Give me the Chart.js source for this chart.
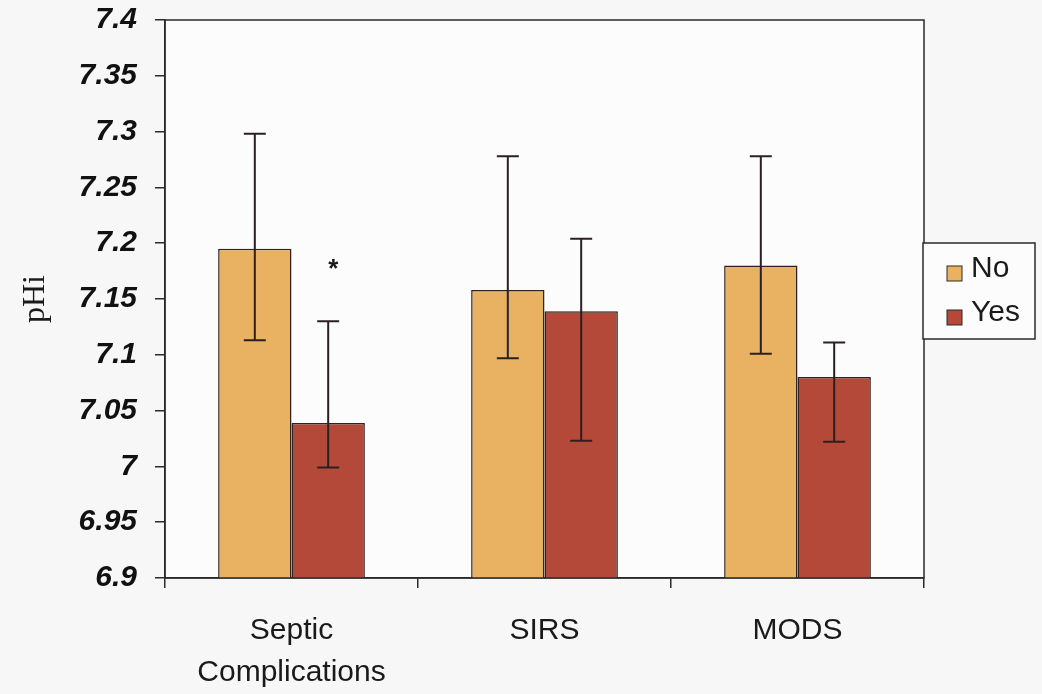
<!DOCTYPE html>
<html>

<head>
    <meta charset='utf-8'>
    <title>pHi by complication</title>
    <script src="https://cdn.jsdelivr.net/npm/chart.js@4.4.1/dist/chart.umd.min.js"></script>
    <style>
        body { margin: 0; background: #f7f7f7; }
    </style>
</head>

<body>
    <canvas id="myChart" width="1042" height="694"></canvas>
    <script>
        // values
        const categories = [['Septic', 'Complications'], 'SIRS', 'MODS'];
        const seriesNames = ['No', 'Yes'];
        const meanNo = [7.195, 7.158, 7.180];
        const meanYes = [7.039, 7.139, 7.080];
        const upperNo = [7.298, 7.278, 7.278];
        const lowerNo = [7.113, 7.097, 7.101];
        const upperYes = [7.130, 7.204, 7.111];
        const lowerYes = [6.999, 7.023, 7.022];
        // significance marker: category index, series index, height
        const starCategory = 0;
        const starSeries = 1;
        const starValue = 7.176;

        const colors = ['#e8b262', '#b4493a'];
        const errors = [
            { lo: lowerNo, hi: upperNo },
            { lo: lowerYes, hi: upperYes }
        ];

        const frameAndBack = {
            id: 'frameAndBack',
            beforeDraw(chart) {
                const { ctx, chartArea: a } = chart;
                ctx.save();
                ctx.fillStyle = '#f7f7f7';
                ctx.fillRect(0, 0, chart.width, chart.height);
                ctx.fillStyle = '#fcfcfc';
                ctx.fillRect(a.left, a.top, a.right - a.left, a.bottom - a.top);
                ctx.restore();
            },
            afterDraw(chart) {
                const { ctx, chartArea: a } = chart;
                ctx.save();
                ctx.strokeStyle = '#2a2a2a';
                ctx.lineWidth = 1.5;
                ctx.strokeRect(a.left, a.top, a.right - a.left, a.bottom - a.top);
                ctx.restore();
            }
        };

        const errorBars = {
            id: 'errorBars',
            afterDatasetsDraw(chart) {
                const ctx = chart.ctx;
                const y = chart.scales.y;
                ctx.save();
                ctx.strokeStyle = '#2b2020';
                ctx.lineWidth = 2;
                errors.forEach((e, i) => {
                    const meta = chart.getDatasetMeta(i);
                    meta.data.forEach((bar, j) => {
                        const yl = y.getPixelForValue(e.lo[j]);
                        const yh = y.getPixelForValue(e.hi[j]);
                        ctx.beginPath();
                        ctx.moveTo(bar.x, yl);
                        ctx.lineTo(bar.x, yh);
                        ctx.moveTo(bar.x - 11, yl);
                        ctx.lineTo(bar.x + 11, yl);
                        ctx.moveTo(bar.x - 11, yh);
                        ctx.lineTo(bar.x + 11, yh);
                        ctx.stroke();
                    });
                });
                // asterisk
                const star = chart.getDatasetMeta(starSeries).data[starCategory];
                ctx.fillStyle = '#1a1a1a';
                ctx.font = 'bold 26px "Liberation Sans", Arial';
                ctx.textAlign = 'center';
                ctx.textBaseline = 'middle';
                ctx.fillText('*', star.x + 5, y.getPixelForValue(starValue));
                ctx.restore();
            }
        };

        // boxed legend to the right of the plot
        const boxLegend = {
            id: 'boxLegend',
            afterDraw(chart) {
                const { ctx, chartArea: a } = chart;
                const bx = a.right - 1, bw = 112, bh = 96;
                const by = a.top + (a.bottom - a.top - bh) / 2 - 8;
                ctx.save();
                ctx.fillStyle = '#fcfcfc';
                ctx.fillRect(bx, by, bw, bh);
                ctx.strokeStyle = '#2a2a2a';
                ctx.lineWidth = 1.5;
                ctx.strokeRect(bx, by, bw, bh);
                ctx.font = '30px "Liberation Sans", Arial';
                ctx.textBaseline = 'middle';
                chart.data.datasets.forEach((ds, i) => {
                    const cy = by + 26 + i * 44;
                    ctx.fillStyle = ds.backgroundColor;
                    ctx.fillRect(bx + 24, cy - 3, 15, 15);
                    ctx.lineWidth = 1;
                    ctx.strokeRect(bx + 24, cy - 3, 15, 15);
                    ctx.fillStyle = '#1a1a1a';
                    ctx.fillText(ds.label, bx + 48, cy);
                });
                ctx.restore();
            }
        };

        const ctx = document.getElementById('myChart').getContext('2d');
        const myChart = new Chart(ctx, {
            type: 'bar',
            data: {
                labels: categories,
                datasets: [{
                        label: seriesNames[0],
                        data: meanNo,
                        backgroundColor: colors[0],
                        borderColor: '#2e2222',
                        borderWidth: 1.5
                    },
                    {
                        label: seriesNames[1],
                        data: meanYes,
                        backgroundColor: colors[1],
                        borderColor: '#2e2222',
                        borderWidth: 1.5
                    }
                ]
            },
            options: {
                responsive: false,
                animation: false,
                layout: { padding: { left: 0, right: 118, top: 20, bottom: 0 } },
                plugins: {
                    legend: { display: false },
                    tooltip: { enabled: false }
                },
                datasets: {
                    bar: { categoryPercentage: 0.58, barPercentage: 1 }
                },
                scales: {
                    x: {
                        grid: { drawOnChartArea: false, tickLength: 10, tickColor: '#2a2a2a', lineWidth: 1.5 },
                        border: { color: '#2a2a2a', width: 1.5 },
                        ticks: {
                            color: '#1a1a1a',
                            padding: 22,
                            font: { family: '"Liberation Sans", Arial', size: 30, lineHeight: 1.4 }
                        },
                        afterFit(scale) { scale.height = 116; }
                    },
                    y: {
                        min: 6.9,
                        max: 7.4,
                        grid: { drawOnChartArea: false, tickLength: 10, tickColor: '#2a2a2a', lineWidth: 1.5 },
                        border: { color: '#2a2a2a', width: 1.5 },
                        ticks: {
                            stepSize: 0.05,
                            color: '#111',
                            padding: 18,
                            font: { family: '"Liberation Sans", Arial', size: 30, weight: 'bold', style: 'italic' },
                            callback: v => String(Number(v.toFixed(2)))
                        },
                        title: {
                            display: true,
                            text: 'pHi',
                            color: '#1a1a1a',
                            padding: { top: 16, bottom: 0 },
                            font: { family: '"Liberation Serif", "Times New Roman", serif', size: 32 }
                        },
                        afterFit(scale) {
                            scale.width = 165;
                            scale.paddingTop = 0;
                            scale.paddingBottom = 0;
                        }
                    }
                }
            },
            plugins: [frameAndBack, errorBars, boxLegend]
        });
    </script>
</body>

</html>
